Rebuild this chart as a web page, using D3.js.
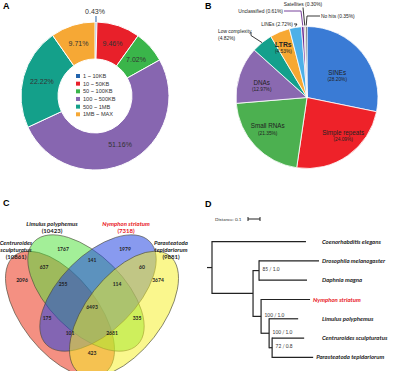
<!DOCTYPE html>
<html>
<head>
<meta charset="utf-8">
<script src="https://cdnjs.cloudflare.com/ajax/libs/d3/7.8.5/d3.min.js"></script>
<style>
body { margin: 0; background: #fff; }
text { font-family: "Liberation Sans", Arial, sans-serif; }
.cal { font-family: Lato, "Open Sans", sans-serif; }
</style>
</head>
<body>
<div id="chart-area"></div>
<script>
// A - scaffold length distribution
var sizeBins = ["1 ~ 10KB", "10 ~ 50KB", "50 ~ 100KB", "100 ~ 500KB", "500 ~ 1MB", "1MB ~ MAX"];
var sizePct = [0.43, 9.46, 7.02, 51.16, 22.22, 9.71];

// B - repeat classes
var repeatTypes = ["SINEs", "Simple repeats", "Small RNAs", "DNAs", "Low complexity", "LTRs", "LINEs", "Unclassified", "Satellites", "No hits"];
var repeatPct = [28.20, 24.09, 21.35, 12.97, 4.82, 4.53, 2.72, 0.61, 0.30, 0.35];

// C - orthogroup venn
var vennSets = ["Centruroides sculpturatus", "Limulus polyphemus", "Nymphon striatum", "Parasteatoda tepidariorum"];
var vennTotals = [10861, 10423, 7318, 9881];
var vennRegions = ["C", "L", "N", "P", "CL", "LN", "NP", "CP", "CLN", "LNP", "CLNP", "CN", "LP", "CNP", "CLP"];
var vennCounts = [2096, 1767, 1979, 3674, 637, 141, 60, 423, 255, 114, 6493, 175, 335, 101, 2681];

// D - phylogeny (branch lengths, support)
var tree = {name: "root", len: 0, children: [
  {name: "Coenorhabditis elegans", len: 0.783},
  {name: "n1", len: 0.342, children: [
    {name: "n2", len: 0.05, support: "85 / 1.0", children: [
      {name: "Drosophila melanogaster", len: 0.5},
      {name: "Daphnia magna", len: 0.4}
    ]},
    {name: "n3", len: 0.067, support: "100 / 1.0", children: [
      {name: "Nymphon striatum", len: 0.408},
      {name: "n4", len: 0.067, support: "100 / 1.0", children: [
        {name: "Limulus polyphemus", len: 0.242},
        {name: "n5", len: 0.025, support: "72 / 0.8", children: [
          {name: "Centruroides sculpturatus", len: 0.267},
          {name: "Parasteatoda tepidariorum", len: 0.342}
        ]}
      ]}
    ]}
  ]}
]};

var colorsA = ["#2364ad", "#e8202a", "#3ab54a", "#8766b0", "#14a08a", "#f6a835"];
var colorsB = ["#3a7bd5", "#ee2229", "#4cb050", "#8a69b0", "#14a08c", "#f7a832", "#4db0e8", "#6a2c91", "#8c8c8c", "#3a3a3a"];
var colorsC = ["#ea2a10", "#4ee03a", "#1a3ee0", "#f5f025"];

var svg = d3.select("#chart-area").append("svg")
    .attr("width", 400)
    .attr("height", 371);

// panel letters
[["A", 3, 9], ["B", 205, 9], ["C", 3, 206], ["D", 205, 207]].forEach((p)=>{
  svg.append("text").attr("x", p[1]).attr("y", p[2]).text(p[0])
    .attr("font-size", 9).attr("font-weight", "bold");
});

// ---------------- A ----------------
var colorA = d3.scaleOrdinal().domain(sizeBins).range(colorsA);
var gA = svg.append("g").attr("transform", "translate(95,96)");
var slicesA = d3.pie().sort(null)(sizePct);
var arcA = d3.arc().innerRadius(37).outerRadius(74);
var labArcA = d3.arc().innerRadius(55).outerRadius(55);

gA.selectAll("path").data(slicesA).enter().append("path")
    .attr("d", arcA)
    .attr("fill", (d, i)=>colorA(sizeBins[i]))
    .attr("stroke", "#fff")
    .attr("stroke-width", 1);

gA.selectAll("text.pct").data(slicesA).enter().append("text")
    .attr("class", "pct")
    .attr("transform", (d, i)=>{
      if (i == 0) return "translate(0,-84)";
      var c = labArcA.centroid(d);
      return "translate(" + c[0] + "," + c[1] + ")";
    })
    .attr("text-anchor", "middle")
    .attr("dy", "0.35em")
    .attr("font-size", 7)
    .attr("fill", "#333")
    .text((d, i)=>sizePct[i].toFixed(2) + "%");

// leader for the tiny slice
var topA = d3.arc().innerRadius(74).outerRadius(74).centroid(slicesA[0]);
gA.append("line").attr("x1", topA[0]).attr("y1", -74).attr("x2", topA[0]).attr("y2", -80)
    .attr("stroke", colorsA[0]).attr("stroke-width", 1);

var legY = d3.scalePoint().domain(sizeBins).range([-20, 18.3]);
var legA = gA.selectAll("g.leg").data(sizeBins).enter().append("g")
    .attr("transform", (d)=>"translate(-19," + legY(d) + ")");
legA.append("rect").attr("x", 0).attr("y", -2).attr("width", 4).attr("height", 4)
    .attr("fill", (d)=>colorA(d));
legA.append("text").attr("x", 7).attr("dy", "0.35em").attr("font-size", 5.6)
    .attr("fill", "#333").text((d)=>d);

// ---------------- B ----------------
var colorB = d3.scaleOrdinal().domain(repeatTypes).range(colorsB);
var gB = svg.append("g").attr("transform", "translate(307,97.5)");
var slicesB = d3.pie().sort(null)(repeatPct);
var arcB = d3.arc().innerRadius(0).outerRadius(71);

gB.selectAll("path").data(slicesB).enter().append("path")
    .attr("d", arcB)
    .attr("fill", (d, i)=>colorB(repeatTypes[i]))
    .attr("stroke", "#fff")
    .attr("stroke-width", 0.8);

// inside labels: radius and angle tweak
var inLab = {"SINEs": [38, 2], "Simple repeats": [52, -9], "Small RNAs": [50, 5], "DNAs": [47, -3], "LTRs": [56, -2.5]};
slicesB.forEach((d, i)=>{
  var name = repeatTypes[i];
  if (!inLab[name]) return;
  var a = (d.startAngle + d.endAngle) / 2 + inLab[name][1] * Math.PI / 180;
  var r = inLab[name][0];
  var x = r * Math.sin(a), y = -r * Math.cos(a);
  gB.append("text").attr("x", x).attr("y", y).attr("text-anchor", "middle")
    .attr("font-size", name == "LTRs" ? 6.8 : 6.3)
    .attr("font-weight", name == "LTRs" ? "bold" : "normal")
    .attr("fill", "#222").text(name);
  gB.append("text").attr("x", x).attr("y", y + 6.5).attr("text-anchor", "middle")
    .attr("font-size", 4.8).attr("fill", "#222")
    .text("(" + repeatPct[i].toFixed(2) + "%)");
});

// outside labels with leader lines (text anchor point, elbow)
var outLab = {
  "Low complexity": {tx: -89, ty: -64.5, anchor: "start", two: true, elbow: [-56, -62]},
  "LINEs": {tx: -14, ty: -73.5, anchor: "end", elbow: [-10, -73.5]},
  "Unclassified": {tx: -24, ty: -86.5, anchor: "end", elbow: [-6, -86.5]},
  "Satellites": {tx: -4, ty: -93, anchor: "middle", elbow: [-4, -90]},
  "No hits": {tx: 14, ty: -81.5, anchor: "start", elbow: [0, -81.5]}
};
var edgeB = d3.arc().innerRadius(71).outerRadius(71);
slicesB.forEach((d, i)=>{
  var name = repeatTypes[i];
  var o = outLab[name];
  if (!o) return;
  var e = edgeB.centroid(d);
  var pct = "(" + repeatPct[i].toFixed(2) + "%)";
  if (o.two) {
    gB.append("text").attr("x", o.tx).attr("y", o.ty).attr("font-size", 4.9).attr("fill", "#222").text(name);
    gB.append("text").attr("x", o.tx).attr("y", o.ty + 6.5).attr("font-size", 4.9).attr("fill", "#222").text(pct);
    gB.append("polyline").attr("points", [[o.tx + 33, o.ty - 1], o.elbow, e].join(" "))
      .attr("fill", "none").attr("stroke", "#222").attr("stroke-width", 0.9);
  } else {
    gB.append("text").attr("x", o.tx).attr("y", o.ty).attr("dy", "0.35em")
      .attr("text-anchor", o.anchor).attr("font-size", 4.9).attr("fill", "#222")
      .text(name + " " + pct);
    var start = o.anchor == "middle" ? [o.tx, o.ty + 3] : [o.anchor == "end" ? o.tx + 1 : o.tx - 1, o.ty];
    gB.append("polyline").attr("points", [start, o.elbow, [e[0], e[1] - 1]].join(" "))
      .attr("fill", "none").attr("stroke", name == "Unclassified" ? colorsB[7] : "#222").attr("stroke-width", 0.9);
  }
});

// ---------------- C ----------------
var X0 = 92;
var ellipses = [
  {cx: X0 - 32, cy: 314, a: 74, b: 38, rot: 52},
  {cx: X0 - 6, cy: 293, a: 73, b: 38, rot: 45},
  {cx: X0 + 6, cy: 293, a: 73, b: 38, rot: -45},
  {cx: X0 + 32, cy: 314, a: 74, b: 38, rot: -52}
];
var gC = svg.append("g");
gC.selectAll("ellipse").data(vennSets).enter().append("ellipse")
    .attr("transform", (d, i)=>"translate(" + ellipses[i].cx + "," + ellipses[i].cy + ") rotate(" + ellipses[i].rot + ")")
    .attr("rx", (d, i)=>ellipses[i].a)
    .attr("ry", (d, i)=>ellipses[i].b)
    .attr("fill", (d, i)=>colorsC[i])
    .attr("fill-opacity", 0.52)
    .attr("stroke", "#4a4a3a")
    .attr("stroke-opacity", 0.75)
    .attr("stroke-width", 0.8);

var vennPos = {C: [22, 280], L: [63, 249], N: [125, 249], P: [158, 280], CL: [44, 267], LN: [92, 260],
  NP: [142, 267], CP: [92, 353], CLN: [63, 284], LNP: [117, 284], CLNP: [92, 307], CN: [47, 318],
  LP: [137, 318], CNP: [70, 333], CLP: [112, 333]};
gC.selectAll("text.cnt").data(vennRegions).enter().append("text")
    .attr("class", "cal cnt")
    .attr("x", (d)=>vennPos[d][0]).attr("y", (d)=>vennPos[d][1])
    .attr("dy", "0.35em").attr("text-anchor", "middle")
    .attr("font-size", 5).attr("font-weight", "bold").attr("fill", "#222")
    .text((d, i)=>vennCounts[i]);

var setLab = [
  {x: 16, y: 243, lines: ["Centruroides", "sculpturatus"]},
  {x: 52, y: 224, lines: ["Limulus polyphemus"]},
  {x: 126, y: 224, lines: ["Nymphon striatum"]},
  {x: 171, y: 243, lines: ["Parasteatoda", "tepidariorum"]}
];
vennSets.forEach((s, i)=>{
  var L = setLab[i];
  var col = s == "Nymphon striatum" ? "#e8141c" : "#222";
  L.lines.forEach((t, k)=>{
    gC.append("text").attr("class", "cal").attr("x", L.x).attr("y", L.y + k * 7).attr("dy", "0.35em")
      .attr("text-anchor", "middle").attr("font-size", 6).attr("font-weight", "bold")
      .attr("font-style", "italic").attr("fill", col).text(t);
  });
  gC.append("text").attr("class", "cal").attr("x", L.x).attr("y", L.y + L.lines.length * 7).attr("dy", "0.35em")
    .attr("text-anchor", "middle").attr("font-size", 6).attr("font-weight", "bold")
    .attr("fill", col).text("(" + vennTotals[i] + ")");
});

// ---------------- D ----------------
var root = d3.hierarchy(tree);
d3.cluster().size([135, 1]).separation(()=>1)(root);
var xD = d3.scaleLinear().domain([0, 0.1]).range([0, 12]);
root.each((d)=>{
  d.dist = (d.parent ? d.parent.dist : 0) + d.data.len;
  d.px = 212 + xD(d.dist);
  d.py = 232 + d.x;
});
var gD = svg.append("g");
root.descendants().forEach((d)=>{
  if (d.parent) {
    gD.append("line").attr("x1", d.parent.px).attr("x2", d.px).attr("y1", d.py).attr("y2", d.py)
      .attr("stroke", "#222").attr("stroke-width", 1.2);
  }
  if (d.children) {
    var ys = d.children.map((c)=>c.py);
    gD.append("line").attr("x1", d.px).attr("x2", d.px).attr("y1", d3.min(ys) - 0.6).attr("y2", d3.max(ys) + 0.6)
      .attr("stroke", "#222").attr("stroke-width", 1.2);
    if (d.data.support) {
      gD.append("text").attr("class", "cal").attr("x", d.px + 3.5).attr("y", d.py - 1).attr("dy", "0.35em")
        .attr("font-size", 4.8).attr("fill", "#333").text(d.data.support);
    }
  }
});
gD.append("line").attr("x1", 207).attr("x2", 212).attr("y1", root.py).attr("y2", root.py)
  .attr("stroke", "#222").attr("stroke-width", 1.2);
root.leaves().forEach((d)=>{
  gD.append("text").attr("class", "cal")
    .attr("x", d.px > 310 ? d.px + 3 : 322).attr("y", d.py).attr("dy", "0.35em")
    .attr("font-size", 6).attr("font-weight", "bold").attr("font-style", "italic")
    .attr("fill", d.data.name == "Nymphon striatum" ? "#e8141c" : "#222")
    .text(d.data.name);
});
// distance scale bar
gD.append("text").attr("class", "cal").attr("x", 215).attr("y", 219).attr("dy", "0.35em")
  .attr("font-size", 4.6).attr("fill", "#333").text("Distance: 0.1");
gD.append("path").attr("d", "M248," + 217 + "V221M248,219H" + (248 + xD(0.1)) + "M" + (248 + xD(0.1)) + ",217V221")
  .attr("stroke", "#222").attr("stroke-width", 1).attr("fill", "none");
</script>
</body>
</html>
